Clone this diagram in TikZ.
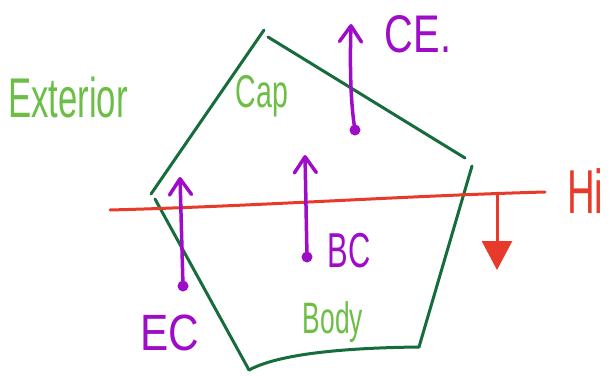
\documentclass[tikz,border=0pt]{standalone}
\usepackage{fontspec}
\setmainfont{Liberation Sans}
\usetikzlibrary{arrows.meta}
\definecolor{edgegreen}{RGB}{22,108,58}
\definecolor{labelgreen}{RGB}{108,190,70}
\definecolor{inkpurple}{RGB}{158,12,200}
\definecolor{inkred}{RGB}{232,58,42}
\newcommand\hwtext[3]{\scalebox{#1}[1]{\fontsize{#2}{#2}\selectfont #3}}
\tikzset{
  edgeline/.style={draw=edgegreen, line width=3pt, line cap=round, line join=round},
  redline/.style={draw=inkred, line width=3pt, line cap=round},
  flux/.style={draw=inkpurple, line width=3.5pt, line cap=round,
    -{Straight Barb[length=16pt,width=22pt,line cap=round,line join=round]}},
  fluxdot/.style={circle, fill=inkpurple, inner sep=0pt, minimum size=11pt},
  greenlabel/.style={text=labelgreen, inner sep=0pt},
  purplelabel/.style={text=inkpurple, inner sep=0pt},
  redlabel/.style={text=inkred, inner sep=0pt}
}
\begin{document}
\begin{tikzpicture}[x=1pt,y=-1pt]
\useasboundingbox (0,0) rectangle (612,375);
% pentagon corners
\coordinate (vtop) at (264,30);
\coordinate (vtopb) at (268,37);
\coordinate (vright) at (465,158);
\coordinate (vrightb) at (472,166);
\coordinate (vbr) at (419,347);
\coordinate (vbl) at (249,370);
\coordinate (vleft) at (151,194);
\coordinate (vleftb) at (155,199);
\draw[edgeline] (vleft) -- (vtop);
\draw[edgeline] (vtopb) -- (vright);
\draw[edgeline] (vrightb) -- (vbr);
\draw[edgeline] (vbr) .. controls (330,348) and (275,356) .. (vbl);
\draw[edgeline] (vbl) -- (vleftb);
% red line
\coordinate (rl) at (110,210);
\coordinate (rr) at (545,192);
\coordinate (rdown) at (497,193);
\coordinate (rtip) at (497,270);
\draw[redline] (rl) .. controls (260,206) and (400,196) .. (rr);
\draw[redline, -{Triangle[length=29pt,width=30pt]}] (rdown) -- (rtip);
% purple arrows
\node[fluxdot] (dce) at (355,130) {};
\coordinate (tce) at (351,24);
\draw[flux] (dce.center) .. controls (350,100) and (350,60) .. (tce);
\node[fluxdot] (dbc) at (307,257) {};
\coordinate (tbc) at (305,155);
\draw[flux] (dbc.center) -- (tbc);
\node[fluxdot] (dec) at (183,286) {};
\coordinate (tec) at (180,177);
\draw[flux] (dec.center) -- (tec);
% labels
\node[purplelabel] (lce) at (418,34) {\hwtext{0.75}{53}{CE.}};
\node[purplelabel] (lbc) at (349,251) {\hwtext{0.63}{49}{BC}};
\node[purplelabel] (lec) at (170,333) {\hwtext{0.83}{51}{EC}};
\node[redlabel, anchor=west] (lhi) at (567,191) {\hwtext{0.62}{62}{Hi}};
\node[greenlabel] (lext) at (68,97) {\hwtext{0.62}{56}{Exterior}};
\node[greenlabel] (lcap) at (262,96) {\hwtext{0.62}{46}{Cap}};
\node[greenlabel] (lbody) at (333,322) {\hwtext{0.6}{44}{Body}};
\end{tikzpicture}
\end{document}
